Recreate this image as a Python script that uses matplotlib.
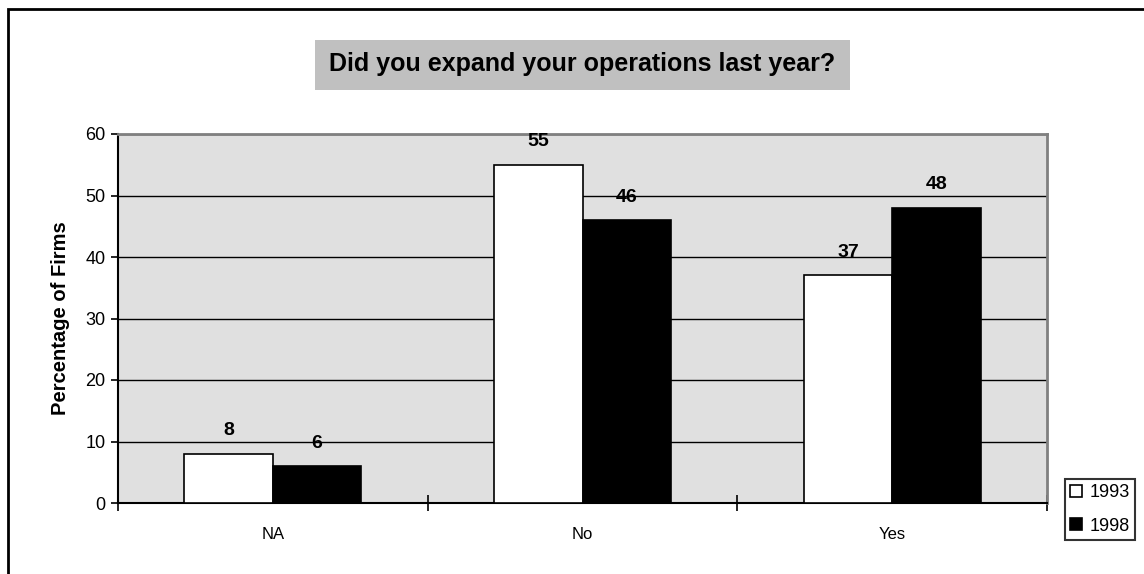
import matplotlib.pyplot as plt
import numpy as np
from matplotlib.patches import Rectangle, Patch

plt.rcParams['font.family'] = ['Liberation Sans', 'DejaVu Sans']

# Survey answers, percent of firms per year
categories = ['NA', 'No', 'Yes']
years = ['1993', '1998']
pct_1993 = [8, 55, 37]
pct_1998 = [6, 46, 48]

W, H = 1144, 574
fig = plt.figure(figsize=(W / 100, H / 100), dpi=100)

# Outer chart frame (runs off the right and bottom edges)
fig.patches.append(Rectangle((8 / W, -0.1), 1.2, 1 - 8.5 / H + 0.1, transform=fig.transFigure,
                             fill=False, edgecolor='black', linewidth=2))

left, right, top, bottom = 118, 1047, 134, 503
ax = fig.add_axes([left / W, 1 - bottom / H, (right - left) / W, (bottom - top) / H])
ax.set_facecolor('#e0e0e0')

# Title in a grey box, centred over the plot area
title = fig.text((left + right) / 2 / W, 1 - 71 / H, 'Did you expand your operations last year?',
                 ha='center', va='baseline', fontsize=18, fontweight='bold')
fig.canvas.draw()
bb = title.get_window_extent()
fig.patches.append(Rectangle(((bb.x0 - 14) / W, 1 - 90 / H), (bb.width + 28) / W, 50 / H,
                             transform=fig.transFigure, facecolor='#c0c0c0', edgecolor='none',
                             zorder=0))

x = np.arange(len(categories))
w = 1 / 3.5
b1 = ax.bar(x - w / 2, pct_1993, w, color='white', edgecolor='black', linewidth=1.2, zorder=3)
b2 = ax.bar(x + w / 2, pct_1998, w, color='black', edgecolor='black', linewidth=1.2, zorder=3)

for bars, vals in [(b1, pct_1993), (b2, pct_1998)]:
    for bar, v in zip(bars, vals):
        ax.annotate(str(v), (bar.get_x() + bar.get_width() / 2, v), xytext=(0, 10.5),
                    textcoords='offset points', ha='center', va='bottom',
                    fontsize=14, fontweight='bold', zorder=4)

ax.set_xlim(-0.5, len(categories) - 0.5)
ax.set_ylim(0, 60)
ax.set_yticks(np.arange(0, 61, 10))
ax.yaxis.grid(True, color='black', linewidth=1)
ax.set_axisbelow(True)

# Category boundaries as major ticks, names centred as minor ticks
ax.set_xticks(np.arange(-0.5, len(categories), 1))
ax.set_xticklabels([])
ax.set_xticks(x, minor=True)
ax.set_xticklabels(categories, minor=True)
ax.tick_params(axis='x', which='major', direction='inout', length=12, width=1.2)
ax.tick_params(axis='x', which='minor', length=0, pad=17, labelsize=12)
ax.tick_params(axis='y', direction='out', length=5, width=1.2, labelsize=13, pad=4)

for s in ['top', 'right']:
    ax.spines[s].set_color('#808080')
    ax.spines[s].set_linewidth(2)
for s in ['left', 'bottom']:
    ax.spines[s].set_color('black')
    ax.spines[s].set_linewidth(1.5)

ax.set_ylabel('Percentage of Firms', fontsize=14.5, fontweight='bold', labelpad=11)

handles = [Patch(facecolor='white', edgecolor='black', linewidth=1.2),
           Patch(facecolor='black', edgecolor='black', linewidth=1.2)]
leg = fig.legend(handles, years, loc='upper left', bbox_to_anchor=(1065 / W, 1 - 479 / H),
                 fontsize=13, frameon=True, fancybox=False, handlelength=0.65,
                 handleheight=0.65, handletextpad=0.4, borderpad=0.3, labelspacing=0.9,
                 borderaxespad=0)
leg.get_frame().set_edgecolor('black')
leg.get_frame().set_linewidth(1.5)

fig.savefig('out.png', dpi=100)
